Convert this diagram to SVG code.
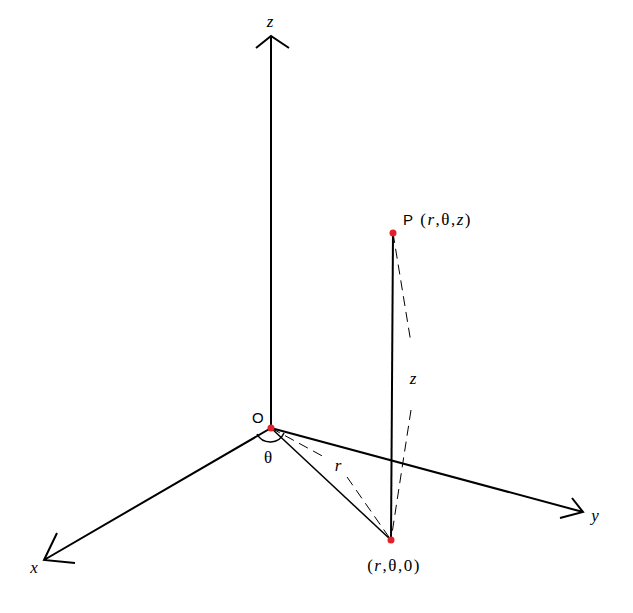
<svg xmlns="http://www.w3.org/2000/svg" width="633" height="613" viewBox="0 0 633 613">
<style>
.ax{stroke:#000;stroke-width:2;fill:none}
.ln{stroke:#000;stroke-width:1.5;fill:none}
.ds{stroke:#000;stroke-width:1;fill:none;stroke-dasharray:10 6}
.pt{fill:#e0202a}
.it{font-family:"Liberation Serif","DejaVu Serif",serif;font-style:italic;font-size:17px}
.sr{font-family:"Liberation Serif","DejaVu Serif",serif;font-size:17px}
.sa{font-family:"Liberation Sans",Arial,sans-serif;font-size:15px}
.tp{letter-spacing:1.5px}
</style>
<rect width="633" height="613" fill="#fff"/>
<g id="connectors">
<path class="ax" d="M271,428 L271,37 M256,48 L271,36 L289,48"/>
<path class="ax" d="M271,428 L44,560 M57,533 L44,560 L75,563"/>
<path class="ax" d="M271,428 L583,512 M572,498 L583,512 L560,518"/>
<path class="ax" d="M393,233 L391,540"/>
<path class="ln" d="M271,428 L391,540"/>
<path class="ds" d="M393,233 L411,343 M411,410 L391,540"/>
<path class="ds" d="M271,428 L326,458 M347,477 L391,540"/>
<path class="ln" d="M257,434 A15,15 0 0 0 284,433"/>
</g>
<g id="O"><circle class="pt" cx="271" cy="428" r="3.5"/><text class="sa" x="252" y="423">O</text></g>
<g id="P"><circle class="pt" cx="393" cy="233" r="3.5"/><text class="tp" x="403" y="225"><tspan class="sa">P</tspan><tspan class="sr"> (</tspan><tspan class="it">r</tspan><tspan class="sr">,θ,</tspan><tspan class="it">z</tspan><tspan class="sr">)</tspan></text></g>
<g id="Q"><circle class="pt" cx="391" cy="540" r="3.5"/><text class="tp" x="394" y="571" text-anchor="middle"><tspan class="sr">(</tspan><tspan class="it">r</tspan><tspan class="sr">,θ,0)</tspan></text></g>
<g id="labels">
<text class="it" x="270" y="27" text-anchor="middle">z</text>
<text class="it" x="34" y="573" text-anchor="middle">x</text>
<text class="it" x="595" y="521" text-anchor="middle">y</text>
<text class="it" x="413" y="384" text-anchor="middle">z</text>
<text class="it" x="338" y="471" text-anchor="middle">r</text>
<text class="sr" x="268" y="463" text-anchor="middle">θ</text>
</g>
</svg>
